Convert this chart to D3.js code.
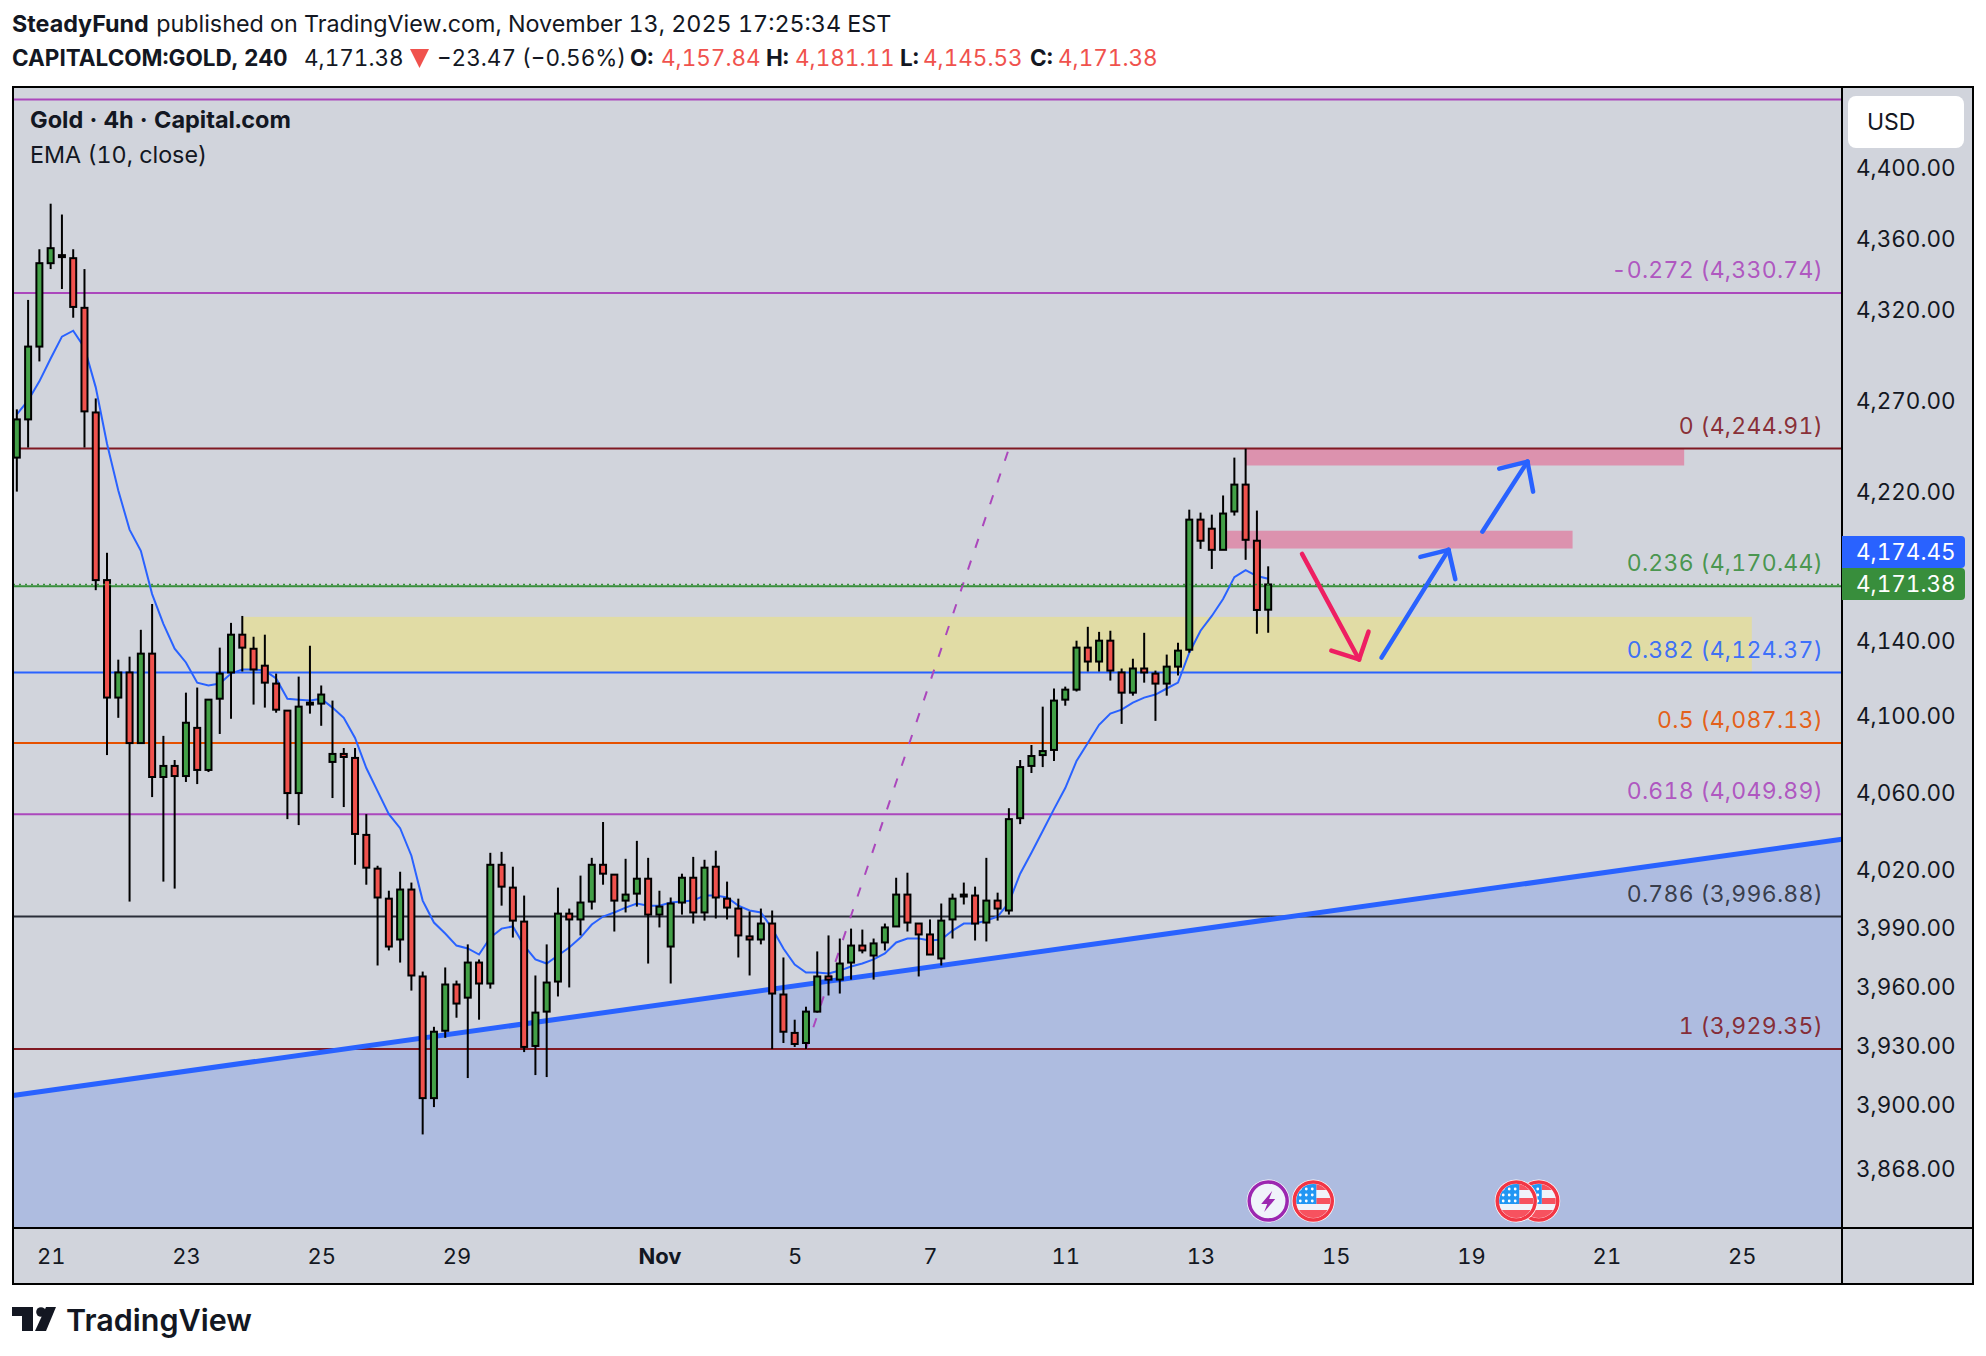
<!DOCTYPE html>
<html>
<head>
<meta charset="utf-8">
<script src="https://cdn.jsdelivr.net/npm/d3@7"></script>
<style>
  body { margin: 0; background: #fff; }
  text { font-family: Inter, "Noto Sans", sans-serif; font-variant-numeric: tabular-nums; }
</style>
</head>
<body>
<script>
let opens = [4240.0,4260.9,4301.0,4347.4,4351.9,4350.2,4322.5,4264.7,4173.7,4111.1,4124.4,4087.1,4134.4,4069.3,4075.1,4069.8,4095.1,4073.0,4110.5,4124.4,
    4144.5,4137.0,4128.0,4118.5,4104.2,4060.9,4108.4,4107.9,4077.2,4081.4,4079.3,4039.1,4021.6,4006.1,3985.1,4010.8,3966.2,3904.6,3938.6,3962.1,
    3955.4,3973.3,3962.6,4023.6,4011.8,3994.3,3930.9,3948.3,3963.6,3998.4,3995.4,4004.6,4023.6,4018.5,4005.1,4008.7,4016.4,3997.9,3981.5,4004.1,
    4016.9,3999.0,4022.6,4006.1,4001.0,3986.7,3985.1,3993.3,3957.0,3937.5,3932.4,3948.3,3966.2,3964.6,3973.3,3982.0,3976.9,3983.6,3991.8,4008.2,
    3993.3,3987.7,3975.4,3995.4,4008.2,4007.7,3993.8,4005.1,4000.0,4047.8,4075.1,4080.8,4083.5,4110.0,4115.3,4137.6,4130.2,4141.3,4124.4,4113.7,
    4126.5,4123.8,4118.5,4127.5,4136.5,4206.3,4201.4,4190.0,4210.7,4225.3,4194.9,4157.84]
let highs = [4266.4,4326.9,4355.2,4380.8,4374.7,4355.2,4344.1,4272.4,4188.4,4131.2,4132.8,4147.1,4160.9,4090.9,4078.2,4113.7,4116.4,4110.0,4137.6,4150.8,
    4154.5,4143.4,4144.5,4123.8,4104.2,4122.2,4138.6,4117.5,4109.5,4084.5,4084.5,4049.9,4023.1,4010.2,4020.0,4014.4,3968.7,3940.6,3970.8,3964.1,
    3982.6,3974.9,4029.8,4030.3,4022.6,4007.7,3966.7,3982.6,4011.8,4001.0,4018.0,4027.2,4045.8,4018.5,4026.7,4036.0,4027.2,4010.2,4006.7,4019.0,
    4027.7,4026.2,4030.9,4014.9,4006.1,3999.5,4001.0,4000.0,3975.9,3944.2,3950.8,3979.0,3987.2,3985.6,3990.7,3990.2,3985.6,3993.3,4016.9,4019.5,
    3993.3,3995.4,4003.6,4008.7,4014.4,4012.3,4027.2,4009.2,4053.0,4078.2,4086.1,4106.3,4115.9,4116.9,4141.3,4148.7,4146.0,4146.6,4126.5,4131.7,
    4145.5,4125.4,4133.9,4140.2,4211.7,4210.1,4209.0,4219.4,4240.0,4244.91,4211.2,4181.11]
let lows = [4221.5,4245.5,4292.8,4344.1,4333.0,4317.0,4245.5,4168.3,4080.8,4100.4,4004.6,4087.1,4058.8,4014.9,4011.3,4066.7,4065.6,4071.9,4091.9,4099.9,
    4124.9,4107.4,4105.8,4103.1,4047.3,4044.2,4102.6,4096.2,4058.3,4053.6,4023.6,4013.3,3971.8,3979.5,3973.3,3959.0,3886.4,3900.1,3935.0,3945.2,
    3914.7,3944.2,3960.0,4002.5,3986.1,3927.8,3916.2,3915.2,3956.0,3960.6,3987.2,4000.5,4013.3,3989.2,3999.0,4002.0,3972.8,3991.3,3962.6,3997.9,
    3993.3,3994.8,3995.9,3995.4,3975.9,3966.7,3982.6,3929.35,3932.4,3930.4,3929.35,3947.8,3956.5,3957.5,3964.6,3978.0,3964.6,3979.5,3991.8,3989.2,
    3966.2,3977.4,3971.8,3985.6,4003.1,3984.6,3984.1,3994.8,3997.9,4044.7,4071.4,4074.5,4077.7,4106.8,4114.3,4124.9,4124.9,4120.1,4097.2,4112.1,
    4119.0,4098.8,4112.1,4122.8,4134.9,4190.5,4179.7,4190.0,4208.5,4184.6,4145.0,4145.53]
let closes = [4260.9,4301.0,4347.4,4355.8,4350.8,4323.0,4265.3,4173.7,4111.1,4124.4,4087.1,4134.4,4069.3,4075.1,4069.8,4097.8,4073.0,4110.0,4123.8,4144.5,
    4137.6,4126.0,4119.0,4104.7,4060.9,4106.3,4107.4,4112.7,4081.4,4079.8,4039.6,4022.1,4006.7,3981.5,4010.8,3966.7,3904.6,3938.1,3962.1,3952.4,
    3973.3,3962.6,4023.6,4012.3,3994.8,3930.4,3947.8,3963.1,3998.4,3995.4,4004.1,4023.6,4019.0,4005.1,4008.2,4016.4,3997.9,4002.0,4003.6,4016.9,
    3999.0,4022.1,4006.7,4001.5,3987.2,3985.1,3993.3,3957.5,3938.1,3931.9,3948.3,3966.2,3964.6,3972.8,3982.0,3979.5,3983.1,3991.3,4008.2,3993.8,
    3987.7,3977.4,3994.8,4006.1,4007.2,3993.3,4005.1,4001.0,4047.3,4074.5,4080.3,4082.9,4109.5,4115.3,4137.6,4130.2,4141.3,4125.4,4113.7,4126.5,
    4124.4,4118.5,4127.5,4136.0,4206.3,4194.9,4190.0,4209.6,4225.3,4195.4,4157.7,4171.38]
let emaValues = [4263.6,4271.3,4281.8,4294.4,4306.5,4309.8,4300.4,4278.5,4247.6,4222.1,4200.9,4189.5,4166.2,4150.3,4137.0,4129.7,4119.0,4117.5,4118.5,4123.8,
    4126.0,4126.0,4125.4,4121.2,4110.5,4110.0,4109.5,4110.5,4105.8,4100.4,4089.8,4074.0,4061.9,4049.9,4042.6,4028.3,4005.1,3993.8,3988.2,3982.0,
    3980.5,3977.4,3986.1,3990.7,3991.8,3982.0,3974.9,3972.8,3976.9,3981.0,3986.1,3992.8,3996.9,3999.0,4001.5,4003.6,4002.5,4002.5,4004.1,4004.6,
    4005.1,4007.7,4007.7,4006.7,4002.5,4000.0,3999.0,3990.7,3980.5,3972.3,3968.2,3968.2,3967.7,3969.2,3971.3,3972.8,3974.9,3978.0,3983.6,3985.6,
    3985.6,3984.6,3985.1,3989.7,3993.3,3993.3,3994.8,3996.9,4004.1,4019.0,4029.8,4041.1,4052.5,4063.5,4077.7,4087.1,4096.7,4102.6,4104.7,4108.4,
    4111.1,4112.7,4115.9,4119.0,4134.9,4146.6,4154.5,4163.6,4175.3,4179.1,4175.9,4174.45]

let fibRatios = [-0.618, -0.272, 0, 0.236, 0.382, 0.5, 0.618, 0.786, 1]
let fibPrices = [4439.9, 4330.74, 4244.91, 4170.44, 4124.37, 4087.13, 4049.89, 3996.88, 3929.35]
let fibColors = ["#ab47bc", "#ab47bc", "#801922", "#388e3c", "#2962ff", "#e65100", "#ab47bc", "#2a2e39", "#801922"]

let priceTicks = [4400, 4360, 4320, 4270, 4220, 4140, 4100, 4060, 4020, 3990, 3960, 3930, 3900, 3868]
let dateTickBars = [3, 15, 27, 39, 57, 69, 81, 93, 105, 117, 129, 141, 153]
let dateTickLabels = ["21", "23", "25", "29", "Nov", "5", "7", "11", "13", "15", "19", "21", "25"]

// drawings: [bar, price]
let trendLine = [[-0.34, 3905.96], [161.9, 4036.8]]
let dashedLine = [[70, 3929.35], [88, 4244.91]]
let yellowBox = [20, 4154.0, 153.9, 4124.37]
let pinkBoxes = [[109, 4244.91, 147.9, 4235.7], [107, 4200.3, 138.0, 4190.7]]
let arrowRed = [[114.0, 4187.8], [119.06, 4131.3], [119.9, 4146.1], [116.6, 4136.0]]
let arrowBlue1 = [[121.05, 4132.3], [127.0, 4190.0], [124.5, 4186.2], [127.6, 4174.2]]
let arrowBlue2 = [[130.0, 4199.8], [134.0, 4237.8], [131.5, 4234.0], [134.5, 4221.5]]
let eventBolt = 111
let eventFlags = [135, 133, 115]
let lastPrice = 4171.38
let lastEma = 4174.45

let paneLeft = 13, paneRight = 1842, paneTop = 87, paneBottom = 1228, boxRight = 1973, boxBottom = 1284
let bg = "#d1d4dc", ink = "#131722", up = "#43a047", down = "#f0524d"
let fontSize = 22.5

let x = d3.scaleLinear().domain([-0.34, 161.9]).range([paneLeft, paneRight])
let y = d3.scaleLog().domain([3839.9, 4446.5]).range([paneBottom, 88])
let fmt = d3.format(",.2f")

let svg = d3.select("body").append("svg").attr("width", 1986).attr("height", 1356).style("display", "block")

// header
function writeLine(yPos, size, parts) {
    let t = svg.append("text").attr("x", 12).attr("y", yPos).attr("font-size", size).attr("fill", ink)
    parts.forEach(function(p) {
        t.append("tspan").attr("x", p[2]).attr("font-weight", p[1] ? 700 : 400).attr("fill", p[3] || ink).text(p[0])
    })
}
writeLine(32, 23.3, [["SteadyFund", true, 12], [" published on TradingView.com, November 13, 2025 17:25:34 EST", false, 150]])
writeLine(66, 22.5, [["CAPITALCOM:GOLD, 240", true, 12], ["4,171.38", false, 304], ["\u221223.47 (\u22120.56%)", false, 437],
    ["O:", true, 630], ["4,157.84", false, 661, down], ["H:", true, 766], ["4,181.11", false, 795, down],
    ["L:", true, 900], ["4,145.53", false, 923, down], ["C:", true, 1030], ["4,171.38", false, 1058, down]])
svg.append("path").attr("d", "M410,49H429L419.5,68Z").attr("fill", down)

// frame background
svg.append("rect").attr("x", paneLeft).attr("y", paneTop).attr("width", boxRight - paneLeft).attr("height", boxBottom - paneTop).attr("fill", bg)

let pane = svg.append("g")

// area under the trend line
let line = d3.line().x(function(d) { return x(d[0]) }).y(function(d) { return y(d[1]) })
pane.append("path")
    .attr("d", d3.area().x(function(d) { return x(d[0]) }).y0(paneBottom).y1(function(d) { return y(d[1]) })(trendLine))
    .attr("fill", "#aebce0")

// zones
function zone(b, color) {
    pane.append("rect").attr("x", x(b[0])).attr("y", y(b[1]))
        .attr("width", x(b[2]) - x(b[0])).attr("height", y(b[3]) - y(b[1])).attr("fill", color)
}
zone(yellowBox, "#e1dca5")
pinkBoxes.forEach(function(b) { zone(b, "#dc92ae") })

// fib levels
pane.selectAll(".fib").data(fibPrices).enter().append("line").attr("class", "fib")
    .attr("x1", paneLeft).attr("x2", paneRight)
    .attr("y1", function(d) { return y(d) }).attr("y2", function(d) { return y(d) })
    .attr("stroke", function(d, i) { return fibColors[i] }).attr("stroke-width", 2)
pane.selectAll(".fibtext").data(fibPrices.slice(1)).enter().append("text").attr("class", "fibtext")
    .attr("x", 1823).attr("y", function(d) { return y(d) - 15 }).attr("text-anchor", "end")
    .attr("font-size", 23).attr("letter-spacing", 0.28).attr("fill-opacity", 0.9)
    .attr("fill", function(d, i) { return fibColors[i + 1] })
    .text(function(d, i) { return fibRatios[i + 1] + " (" + fmt(d) + ")" })

pane.append("path").attr("d", line(dashedLine)).attr("fill", "none").attr("stroke", "#ab47bc")
    .attr("stroke-width", 2).attr("stroke-dasharray", "9.5 13.5")
pane.append("path").attr("d", line(trendLine)).attr("fill", "none").attr("stroke", "#2962ff").attr("stroke-width", 5)

// ema
pane.append("path").attr("d", d3.line().x(function(d, i) { return x(i) }).y(function(d) { return y(d) })(emaValues))
    .attr("fill", "none").attr("stroke", "#2962ff").attr("stroke-width", 2)

// candles
let bars = pane.selectAll(".bar").data(opens).enter().append("g").attr("class", "bar")
bars.append("line")
    .attr("x1", function(d, i) { return x(i) }).attr("x2", function(d, i) { return x(i) })
    .attr("y1", function(d, i) { return y(highs[i]) }).attr("y2", function(d, i) { return y(lows[i]) })
    .attr("stroke", "#000").attr("stroke-width", 2)
bars.append("rect")
    .attr("x", function(d, i) { return x(i) - 3 }).attr("width", 6)
    .attr("y", function(d, i) { return y(Math.max(d, closes[i])) })
    .attr("height", function(d, i) { return Math.abs(y(d) - y(closes[i])) })
    .attr("fill", function(d, i) { return closes[i] >= d ? up : down })
    .attr("stroke", "#000").attr("stroke-width", 2)

// last price line
pane.append("line").attr("x1", paneLeft).attr("x2", paneRight).attr("y1", y(lastPrice)).attr("y2", y(lastPrice))
    .attr("stroke", "#388e3c").attr("stroke-width", 1.5).attr("stroke-dasharray", "2 4")

// arrows
function arrow(a, color) {
    [[a[0], a[1]], [a[2], a[1]], [a[3], a[1]]].forEach(function(seg) {
        pane.append("path").attr("d", line(seg)).attr("fill", "none").attr("stroke", color)
            .attr("stroke-width", 4.5).attr("stroke-linecap", "round")
    })
}
arrow(arrowRed, "#ee1f62")
arrow(arrowBlue1, "#2962ff")
arrow(arrowBlue2, "#2962ff")

// events
let defs = svg.append("defs")
defs.append("clipPath").attr("id", "flagclip").append("circle").attr("r", 17)
eventFlags.forEach(function(bar) {
    let g = pane.append("g").attr("transform", "translate(" + x(bar) + ",1201)")
    g.append("circle").attr("r", 21.5).attr("fill", "#fff")
    let f = g.append("g").attr("clip-path", "url(#flagclip)")
    f.append("rect").attr("x", -18).attr("y", -18).attr("width", 36).attr("height", 36).attr("fill", "#f0f3fa")
    f.append("rect").attr("x", 3).attr("y", -17).attr("width", 15).attr("height", 6).attr("fill", "#f7525f")
    f.append("rect").attr("x", 3).attr("y", -3).attr("width", 15).attr("height", 6).attr("fill", "#f7525f")
    f.append("rect").attr("x", -18).attr("y", 9).attr("width", 36).attr("height", 9).attr("fill", "#f7525f")
    f.append("rect").attr("x", -18).attr("y", -18).attr("width", 21).attr("height", 21).attr("fill", "#2196f3")
    d3.range(3).forEach(function(r) { d3.range(3).forEach(function(c) {
        f.append("circle").attr("cx", -13 + c * 6).attr("cy", -12 + r * 6).attr("r", 1.4).attr("fill", "#fff")
    }) })
    g.append("circle").attr("r", 19).attr("fill", "none").attr("stroke", "#f23645").attr("stroke-width", 3.5)
})
let bolt = pane.append("g").attr("transform", "translate(" + x(eventBolt) + ",1201)")
bolt.append("circle").attr("r", 21.5).attr("fill", "#fff")
bolt.append("circle").attr("r", 19).attr("fill", "#f0f3fa").attr("stroke", "#9c27b0").attr("stroke-width", 3.5)
bolt.append("path").attr("d", "M4,-10L-7,3H-1L-4,11L7,-2H1Z").attr("fill", "#9c27b0")

// frame
svg.append("rect").attr("x", paneLeft).attr("y", paneTop).attr("width", boxRight - paneLeft).attr("height", boxBottom - paneTop)
    .attr("fill", "none").attr("stroke", "#000").attr("stroke-width", 2)
svg.append("line").attr("x1", paneLeft).attr("x2", boxRight).attr("y1", paneBottom).attr("y2", paneBottom).attr("stroke", "#000").attr("stroke-width", 2)
svg.append("line").attr("x1", paneRight).attr("x2", paneRight).attr("y1", paneTop).attr("y2", boxBottom).attr("stroke", "#000").attr("stroke-width", 2)

// axes
let axisRight = svg.append("g").attr("transform", "translate(" + paneRight + ",0)")
    .call(d3.axisRight(y).tickValues(priceTicks).tickFormat(fmt).tickSize(0).tickPadding(14))
let axisBottom = svg.append("g").attr("transform", "translate(0," + paneBottom + ")")
    .call(d3.axisBottom(x).tickValues(dateTickBars).tickFormat(function(d, i) { return dateTickLabels[i] }).tickSize(0).tickPadding(20))
svg.selectAll(".domain").remove()
axisRight.selectAll("text").attr("font-family", "Inter").attr("font-size", fontSize).attr("fill", ink).attr("dy", "0.24em")
axisBottom.selectAll("text").attr("font-family", "Inter").attr("font-size", 22).attr("fill", ink)
    .attr("font-weight", function(d, i) { return dateTickLabels[i] == "Nov" ? 700 : 400 })

// price labels
function priceTag(value, top, color) {
    svg.append("path").attr("d", "M" + paneRight + "," + top + "h119a4,4 0 0 1 4,4v24a4,4 0 0 1 -4,4h-119z").attr("fill", color)
    svg.append("text").attr("x", 1856).attr("y", top + 24).attr("font-size", fontSize).attr("fill", "#fff").text(fmt(value))
}
priceTag(lastEma, 536, "#2962ff")
priceTag(lastPrice, 568, "#388e3c")

// currency button and titles
svg.append("rect").attr("x", 1848).attr("y", 96).attr("width", 116).attr("height", 52).attr("rx", 8).attr("fill", "#fff")
svg.append("text").attr("x", 1867).attr("y", 130).attr("font-size", 23).attr("fill", ink).text("USD")
svg.append("text").attr("x", 30).attr("y", 128).attr("font-size", 23.5).attr("font-weight", 700).attr("fill", ink).text("Gold \u00b7 4h \u00b7 Capital.com")
svg.append("text").attr("x", 30).attr("y", 163).attr("font-size", 23.3).attr("fill", ink).text("EMA (10, close)")

// logo
svg.append("path").attr("d", "M12,1307H33V1331H22V1316H12Z").attr("fill", ink)
svg.append("circle").attr("cx", 41).attr("cy", 1312).attr("r", 4.8).attr("fill", ink)
svg.append("path").attr("d", "M46,1307H56L46,1331H35Z").attr("fill", ink)
svg.append("text").attr("x", 66).attr("y", 1331).attr("font-size", 30.5).attr("font-weight", 600).attr("fill", ink).text("TradingView")
</script>
</body>
</html>
